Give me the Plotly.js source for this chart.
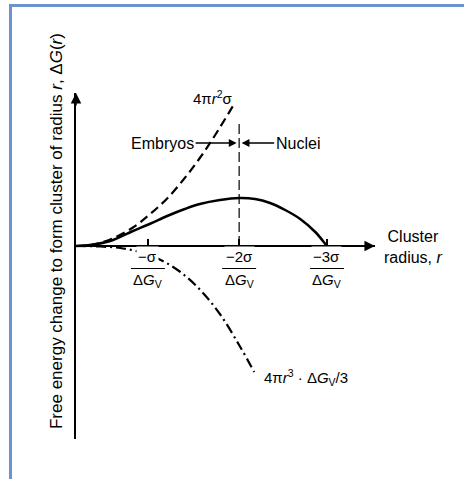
<!DOCTYPE html>
<html><head><meta charset="utf-8">
<script src="https://cdn.plot.ly/plotly-3.0.1.min.js"></script>
<style>
html,body{margin:0;padding:0;background:#fff;}
#chart{position:absolute;left:0;top:0;width:464px;height:479px;}
#frame{position:absolute;left:9px;top:4px;right:0;bottom:0;border-left:3px solid #6a93cf;border-top:3px solid #6a93cf;pointer-events:none;}
</style></head><body>
<div id="chart"></div><div id="frame"></div>
<script>
// Tick positions (cluster radius, in units where -3σ/ΔGv = 3)
const tickVals = [0.86, 1.95, 3.0];
const tickNumerators = ['−σ', '−2σ', '−3σ'];
const tickDenominators = ['Δ<i>G</i><sub>V</sub>', 'Δ<i>G</i><sub>V</sub>', 'Δ<i>G</i><sub>V</sub>'];

// Total free energy ΔG(r) (solid)
const rTotal = [0, 0.17, 0.41, 0.68, 0.88, 1.09, 1.30, 1.48, 1.72, 1.95, 2.14, 2.32, 2.50, 2.68, 2.86, 3.00, 3.03];
const gTotal = [0, 0.02, 0.10, 0.30, 0.44, 0.60, 0.74, 0.84, 0.92, 0.96, 0.94, 0.86, 0.72, 0.54, 0.28, 0.00, -0.06];

// Surface term 4πr²σ (dashed)
const rSurface = [0, 0.17, 0.41, 0.68, 0.88, 1.09, 1.30, 1.48, 1.66, 1.88];
const gSurface = [0, 0.02, 0.13, 0.37, 0.63, 0.95, 1.36, 1.76, 2.21, 2.81];

// Volume term 4πr³ΔGv/3 (dash-dot)
const rVolume = [0, 0.29, 0.53, 0.76, 1.00, 1.24, 1.48, 1.72, 1.96, 2.13];
const gVolume = [0, -0.01, -0.04, -0.12, -0.27, -0.51, -0.87, -1.36, -2.01, -2.52];

// Critical radius marker (vertical dashed)
const rCritical = [1.95, 1.95];
const gCritical = [0, 2.46];

const xRange = [0, 3.574];
const yRange = [-3.86, 3.06];
const FONT = '"Liberation Sans", Arial, Helvetica, sans-serif';

const traces = [
  {x: rCritical, y: gCritical, mode: 'lines', line: {color: '#000', width: 1.2, dash: '10px,4px'}, hoverinfo: 'skip'},
  {x: rSurface, y: gSurface, mode: 'lines', line: {color: '#000', width: 2.2, dash: '9px,5px', shape: 'spline'}, hoverinfo: 'skip'},
  {x: rVolume, y: gVolume, mode: 'lines', line: {color: '#000', width: 2.2, dash: '10px,4px,2px,4px', shape: 'spline'}, hoverinfo: 'skip'},
  {x: rTotal, y: gTotal, mode: 'lines', line: {color: '#000', width: 2.5, shape: 'spline'}, hoverinfo: 'skip'}
];

const annotations = [
  // axis arrowheads
  {x: 0, y: yRange[1] - 0.001, xref: 'x', yref: 'y', ax: 0, ay: 14, text: '', showarrow: true, arrowhead: 2, arrowsize: 1.4, arrowwidth: 1.5, arrowcolor: '#000'},
  {x: xRange[1] - 0.001, y: 0, xref: 'x', yref: 'y', ax: -14, ay: 0, text: '', showarrow: true, arrowhead: 2, arrowsize: 1.4, arrowwidth: 1.5, arrowcolor: '#000'},
  // labels
  {x: 1.64, y: 2.98, xref: 'x', yref: 'y', text: '4π<i>r</i><sup>2</sup>σ', showarrow: false, font: {size: 15}, xanchor: 'center', yanchor: 'middle'},
  {x: 1.92, y: 2.06, xref: 'x', yref: 'y', ax: -74, ay: 0, text: 'Embryos', font: {size: 16}, showarrow: true, arrowhead: 2, arrowsize: 1.2, arrowwidth: 1.3, arrowcolor: '#000', standoff: 0, startstandoff: 0},
  {x: 1.98, y: 2.06, xref: 'x', yref: 'y', ax: 56, ay: 0, text: 'Nuclei', font: {size: 16}, showarrow: true, arrowhead: 2, arrowsize: 1.2, arrowwidth: 1.3, arrowcolor: '#000', standoff: 0, startstandoff: 0},
  {x: 2.22, y: -2.62, xref: 'x', yref: 'y', text: '4π<i>r</i><sup>3</sup> · Δ<i>G</i><sub>V</sub>/3', showarrow: false, font: {size: 15}, xanchor: 'left', yanchor: 'middle'},
  {x: 1.127, y: 0.555, xref: 'paper', yref: 'paper', text: 'Cluster<br>radius, <i>r</i>', showarrow: false, font: {size: 16}, xanchor: 'center', yanchor: 'middle'},
  {x: -0.067, y: 0.601, xref: 'paper', yref: 'paper', text: 'Free energy change to form cluster of radius <i>r</i>, Δ<i>G</i>(<i>r</i>)', textangle: -90, showarrow: false, font: {size: 17}, xanchor: 'center', yanchor: 'middle'}
];

const shapes = [];
tickVals.forEach((t, i) => {
  annotations.push({x: t, y: 0, xref: 'x', yref: 'y', text: tickNumerators[i], showarrow: false, font: {size: 15}, borderpad: 1, bgcolor: '#fff', yshift: -21, xanchor: 'center', yanchor: 'bottom'});
  annotations.push({x: t, y: 0, xref: 'x', yref: 'y', text: tickDenominators[i], showarrow: false, font: {size: 15}, borderpad: 0, yshift: -24, xanchor: 'center', yanchor: 'top'});
  shapes.push({type: 'line', xref: 'x', yref: 'y', xsizemode: 'pixel', xanchor: t, x0: -17, x1: 17, ysizemode: 'pixel', yanchor: 0, y0: -22.5, y1: -22.5, line: {color: '#000', width: 1}});
});

const layout = {
  width: 464, height: 479,
  margin: {l: 76, r: 89, t: 93, b: 40},
  paper_bgcolor: '#fff', plot_bgcolor: '#fff',
  showlegend: false,
  font: {family: FONT, color: '#000', size: 15},
  xaxis: {range: xRange, anchor: 'free', position: (0 - yRange[0]) / (yRange[1] - yRange[0]),
          showline: true, linewidth: 2, linecolor: '#000', ticks: 'inside', ticklen: 6, tickwidth: 1.5, tickcolor: '#000',
          tickmode: 'array', tickvals: tickVals, showticklabels: false, showgrid: false, zeroline: false, fixedrange: true},
  yaxis: {range: yRange, showline: true, linewidth: 2, linecolor: '#000', ticks: '', showticklabels: false,
          showgrid: false, zeroline: false, fixedrange: true},
  annotations: annotations,
  shapes: shapes
};

Plotly.newPlot('chart', traces, layout, {staticPlot: true, displayModeBar: false});
</script>
</body></html>
